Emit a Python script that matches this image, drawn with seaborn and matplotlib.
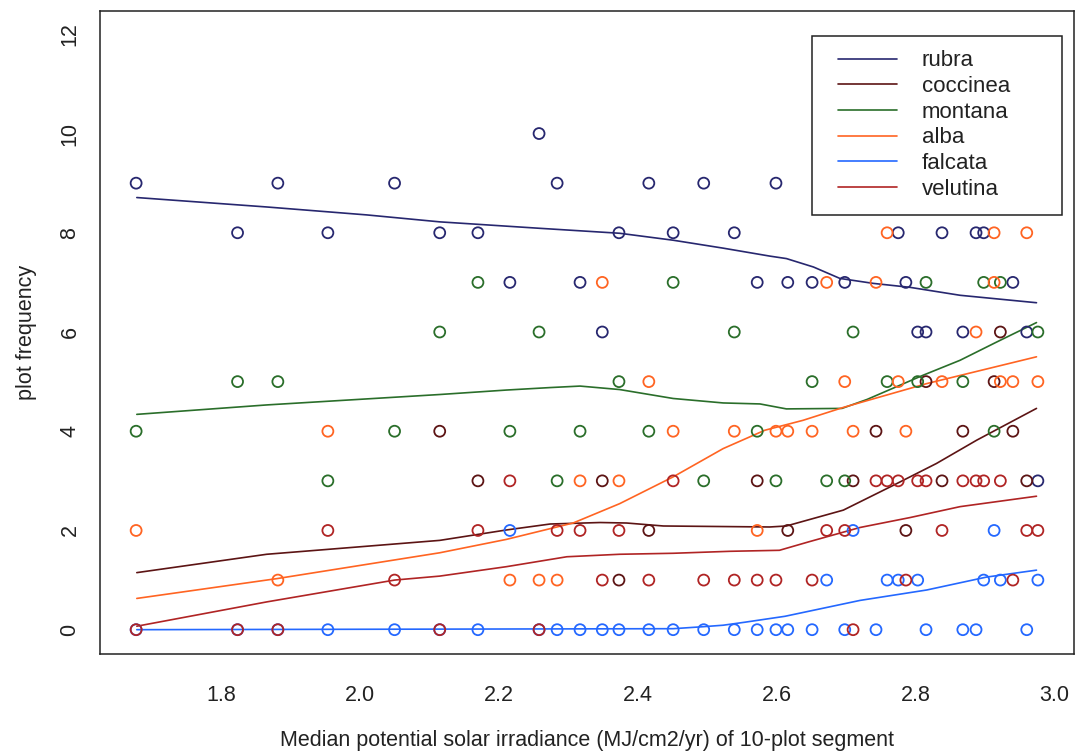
import matplotlib
matplotlib.use("Agg")
import matplotlib.pyplot as plt
from matplotlib.patches import Rectangle
import seaborn as sns

# species order as in the legend
species = ['rubra', 'coccinea', 'montana', 'alba', 'falcata', 'velutina']
colours = ['#27276f', '#5c1414', '#2a6e2a', '#ff6422', '#2468ff', '#b02424']

# observed plot frequency per 10-plot segment (x = median solar irradiance)
rubra_x = [2.258, 1.678, 1.882, 2.050, 2.284, 2.416, 2.495, 2.599,
           1.824, 1.954, 2.115, 2.170, 2.373, 2.451, 2.539, 2.775, 2.838, 2.887, 2.898,
           2.216, 2.317, 2.572, 2.616, 2.651, 2.698, 2.786, 2.940,
           2.349, 2.803, 2.815, 2.868, 2.960, 2.976]
rubra_y = [10, 9, 9, 9, 9, 9, 9, 9,
           8, 8, 8, 8, 8, 8, 8, 8, 8, 8, 8,
           7, 7, 7, 7, 7, 7, 7, 7,
           6, 6, 6, 6, 6, 3]

coccinea_x = [2.922, 2.815, 2.913, 2.115, 2.743, 2.868, 2.940,
              2.170, 2.349, 2.572, 2.710, 2.838, 2.960, 2.416, 2.616, 2.786, 2.373]
coccinea_y = [6, 5, 5, 4, 4, 4, 4,
              3, 3, 3, 3, 3, 3, 2, 2, 2, 1]

montana_x = [2.170, 2.451, 2.815, 2.898, 2.922,
             2.115, 2.258, 2.539, 2.710, 2.976,
             1.824, 1.882, 2.373, 2.651, 2.759, 2.803, 2.868,
             1.678, 2.050, 2.216, 2.317, 2.416, 2.572, 2.913,
             1.954, 2.284, 2.495, 2.599, 2.672, 2.698]
montana_y = [7, 7, 7, 7, 7,
             6, 6, 6, 6, 6,
             5, 5, 5, 5, 5, 5, 5,
             4, 4, 4, 4, 4, 4, 4,
             3, 3, 3, 3, 3, 3]

alba_x = [2.759, 2.913, 2.960, 2.349, 2.672, 2.743, 2.913, 2.887,
          2.416, 2.698, 2.775, 2.838, 2.922, 2.940, 2.976,
          1.954, 2.451, 2.539, 2.599, 2.616, 2.651, 2.710, 2.786,
          2.317, 2.373, 1.678, 2.572, 1.882, 2.216, 2.258, 2.284]
alba_y = [8, 8, 8, 7, 7, 7, 7, 6,
          5, 5, 5, 5, 5, 5, 5,
          4, 4, 4, 4, 4, 4, 4, 4,
          3, 3, 2, 2, 1, 1, 1, 1]

falcata_x = [2.216, 2.710, 2.913,
             2.672, 2.759, 2.775, 2.803, 2.898, 2.922, 2.976,
             1.678, 1.824, 1.882, 1.954, 2.050, 2.115, 2.170, 2.258, 2.284, 2.317,
             2.349, 2.373, 2.416, 2.451, 2.495, 2.539, 2.572, 2.599, 2.616, 2.651,
             2.698, 2.743, 2.815, 2.868, 2.887, 2.960]
falcata_y = [2, 2, 2,
             1, 1, 1, 1, 1, 1, 1,
             0, 0, 0, 0, 0, 0, 0, 0, 0, 0,
             0, 0, 0, 0, 0, 0, 0, 0, 0, 0,
             0, 0, 0, 0, 0, 0]

velutina_x = [2.216, 2.451, 2.743, 2.759, 2.775, 2.803, 2.815, 2.868, 2.887, 2.898, 2.922,
              1.954, 2.170, 2.284, 2.317, 2.373, 2.672, 2.698, 2.838, 2.960, 2.976,
              2.050, 2.349, 2.416, 2.495, 2.539, 2.572, 2.599, 2.651, 2.786, 2.940,
              1.678, 1.824, 1.882, 2.115, 2.258, 2.710]
velutina_y = [3, 3, 3, 3, 3, 3, 3, 3, 3, 3, 3,
              2, 2, 2, 2, 2, 2, 2, 2, 2, 2,
              1, 1, 1, 1, 1, 1, 1, 1, 1, 1,
              0, 0, 0, 0, 0, 0]

# smoothed (lowess) curves
rubra_fit_x = [1.679, 1.866, 2.010, 2.115, 2.259, 2.374, 2.451, 2.523, 2.590, 2.614,
               2.653, 2.691, 2.739, 2.792, 2.864, 2.974]
rubra_fit_y = [8.71, 8.52, 8.36, 8.22, 8.09, 7.99, 7.85, 7.69, 7.53, 7.48,
               7.31, 7.08, 6.98, 6.90, 6.74, 6.59]
coccinea_fit_x = [1.679, 1.866, 2.115, 2.211, 2.274, 2.346, 2.384, 2.437, 2.590, 2.614,
                  2.696, 2.768, 2.830, 2.888, 2.974]
coccinea_fit_y = [1.15, 1.52, 1.80, 2.01, 2.13, 2.16, 2.15, 2.09, 2.07, 2.09,
                  2.41, 2.91, 3.35, 3.82, 4.46]
montana_fit_x = [1.679, 1.866, 2.115, 2.211, 2.274, 2.317, 2.374, 2.451, 2.523, 2.576,
                 2.614, 2.694, 2.730, 2.811, 2.864, 2.917, 2.974]
montana_fit_y = [4.34, 4.53, 4.74, 4.83, 4.88, 4.91, 4.84, 4.66, 4.57, 4.55,
                 4.45, 4.46, 4.64, 5.13, 5.43, 5.80, 6.19]
alba_fit_x = [1.679, 1.881, 2.115, 2.211, 2.307, 2.374, 2.451, 2.523, 2.583, 2.638,
              2.696, 2.816, 2.974]
alba_fit_y = [0.63, 1.03, 1.55, 1.82, 2.15, 2.54, 3.08, 3.65, 4.02, 4.22,
              4.48, 4.96, 5.50]
falcata_fit_x = [1.679, 2.451, 2.494, 2.523, 2.554, 2.612, 2.720, 2.816, 2.902, 2.974]
falcata_fit_y = [0.00, 0.02, 0.06, 0.09, 0.15, 0.27, 0.59, 0.80, 1.06, 1.20]
velutina_fit_x = [1.679, 1.866, 2.050, 2.115, 2.211, 2.298, 2.374, 2.451, 2.533, 2.604,
                  2.646, 2.720, 2.792, 2.864, 2.974]
velutina_fit_y = [0.07, 0.56, 1.00, 1.08, 1.27, 1.47, 1.52, 1.54, 1.58, 1.60,
                  1.77, 2.06, 2.26, 2.48, 2.69]

points = {'rubra': (rubra_x, rubra_y), 'coccinea': (coccinea_x, coccinea_y),
          'montana': (montana_x, montana_y), 'alba': (alba_x, alba_y),
          'falcata': (falcata_x, falcata_y), 'velutina': (velutina_x, velutina_y)}
fits = {'rubra': (rubra_fit_x, rubra_fit_y), 'coccinea': (coccinea_fit_x, coccinea_fit_y),
        'montana': (montana_fit_x, montana_fit_y), 'alba': (alba_fit_x, alba_fit_y),
        'falcata': (falcata_fit_x, falcata_fit_y), 'velutina': (velutina_fit_x, velutina_fit_y)}

sns.set_style('white')
plt.rcParams['font.family'] = ['Liberation Sans', 'DejaVu Sans']

fig = plt.figure(figsize=(10.76, 7.51), dpi=100)
ax = fig.add_axes([100 / 1076, 1 - 653.5 / 751, 974 / 1076, 643 / 751])

handles = []
for sp, col in zip(species, colours):
    px, py = points[sp]
    sns.scatterplot(x=px, y=py, ax=ax, marker='o', s=62, facecolor='none',
                    edgecolor=col, linewidth=1.3, zorder=3, legend=False)
    fx, fy = fits[sp]
    sns.lineplot(x=fx, y=fy, ax=ax, color=col, linewidth=1.2, sort=True,
                 estimator=None, zorder=2, legend=False)
    handles.append(ax.lines[-1])

ax.set_xlim(1.626, 3.028)
ax.set_ylim(-0.48, 12.48)
ax.set_xticks([1.8, 2.0, 2.2, 2.4, 2.6, 2.8, 3.0])
ax.set_xticklabels(['1.8', '2.0', '2.2', '2.4', '2.6', '2.8', '3.0'])
ax.set_yticks([0, 2, 4, 6, 8, 10, 12])
ax.set_yticklabels(['0', '2', '4', '6', '8', '10', '12'], rotation=90, va='center')
ax.tick_params(axis='both', direction='out', length=9, width=1.0, color='#222222',
               labelsize=15.5, labelcolor='#222222')
ax.tick_params(axis='x', pad=14)
ax.tick_params(axis='y', pad=5)
for s in ax.spines.values():
    s.set_color('#222222')
    s.set_linewidth(1.1)

ax.set_xlabel('Median potential solar irradiance (MJ/cm2/yr) of 10-plot segment',
              fontsize=15.5, color='#222222', labelpad=17)
ax.set_ylabel('plot frequency', fontsize=15.5, color='#222222', labelpad=16)

# legend box drawn like R's legend(): wide frame, entries left-aligned inside
ax.add_patch(Rectangle((0.731, 0.682), 0.257, 0.278, transform=ax.transAxes,
                       facecolor='white', edgecolor='#222222', linewidth=1.1, zorder=4))
leg = ax.legend(handles, species, loc='upper left', bbox_to_anchor=(0.758, 0.938),
                fontsize=16, frameon=False, labelspacing=0.21, handlelength=2.65,
                handletextpad=1.1, borderpad=0, borderaxespad=0)
leg.set_zorder(5)
for t in leg.get_texts():
    t.set_color('#222222')

fig.savefig('out.png', dpi=100, facecolor='white')
